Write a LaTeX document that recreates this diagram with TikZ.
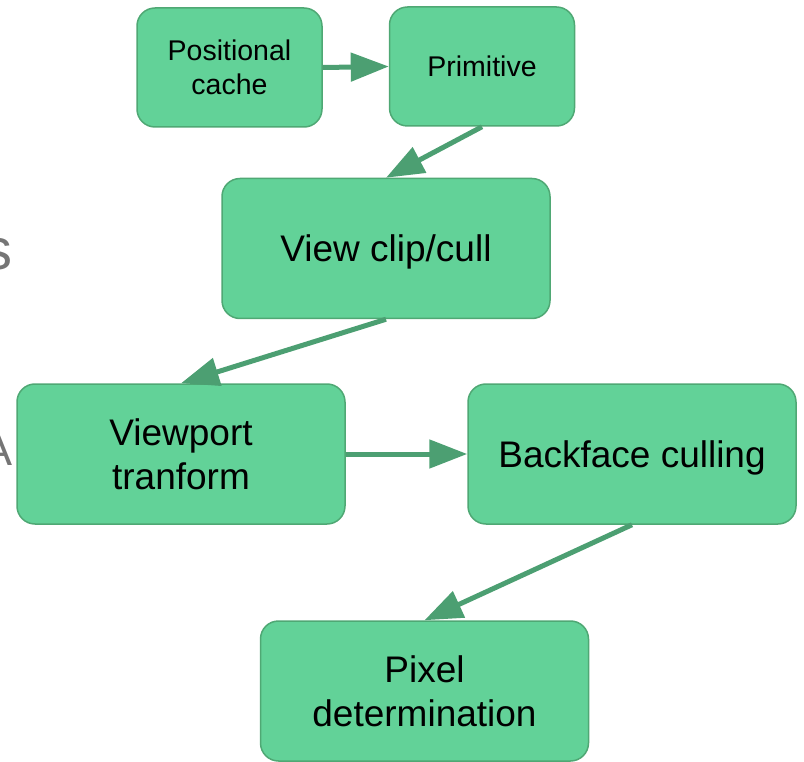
\documentclass[tikz,border=0pt]{standalone}
\usepackage{fontspec}
\setmainfont{Liberation Sans}
\usetikzlibrary{arrows.meta}
\definecolor{boxfill}{HTML}{62D298}
\definecolor{boxline}{HTML}{4FA874}
\definecolor{arrowc}{HTML}{4C9F72}
\definecolor{graytxt}{HTML}{757575}
\tikzset{
  smallbox/.style={rectangle, rounded corners=18pt, draw=boxline, line width=1.5pt, fill=boxfill,
    minimum width=185pt, minimum height=119pt, align=center, inner sep=0pt,
    font=\fontsize{28.5}{34}\selectfont},
  bigbox/.style={rectangle, rounded corners=18pt, draw=boxline, line width=1.5pt, fill=boxfill,
    minimum width=328pt, minimum height=140pt, align=center, inner sep=0pt,
    font=\fontsize{37}{44}\selectfont},
  flow/.style={draw=arrowc, line width=5pt, -{Triangle[length=38pt,width=28pt]}, color=arrowc},
  frag/.style={text=graytxt, inner sep=0pt}
}
\begin{document}
\begin{tikzpicture}[x=1pt,y=-1pt]
\useasboundingbox (0,0) rectangle (804,762);
\node[frag, anchor=base east, font=\fontsize{58}{58}\selectfont] (fs) at (13,270) {s};
\node[frag, anchor=base east, font=\fontsize{45}{45}\selectfont] (fa) at (13,465) {A};
\node[smallbox] (pc) at (229.5,67.5) {Positional\\cache};
\node[smallbox, text depth=0pt] (prim) at (482,66.5) {Primitive};
\node[bigbox, text depth=0pt] (vc) at (386,248.5) {View clip/cull};
\node[bigbox] (vp) at (181,454) {Viewport\\tranform};
\node[bigbox, text depth=0pt] (bf) at (632,454) {Backface culling};
\node[bigbox] (pd) at (424.5,691) {Pixel\\determination};
\draw[flow] (pc.east) -- (prim.west);
\draw[flow] (prim.south) -- (vc.north);
\draw[flow] (vc.south) -- (vp.north);
\draw[flow] (vp.east) -- (bf.west);
\draw[flow] (bf.south) -- (pd.north);
\end{tikzpicture}
\end{document}
